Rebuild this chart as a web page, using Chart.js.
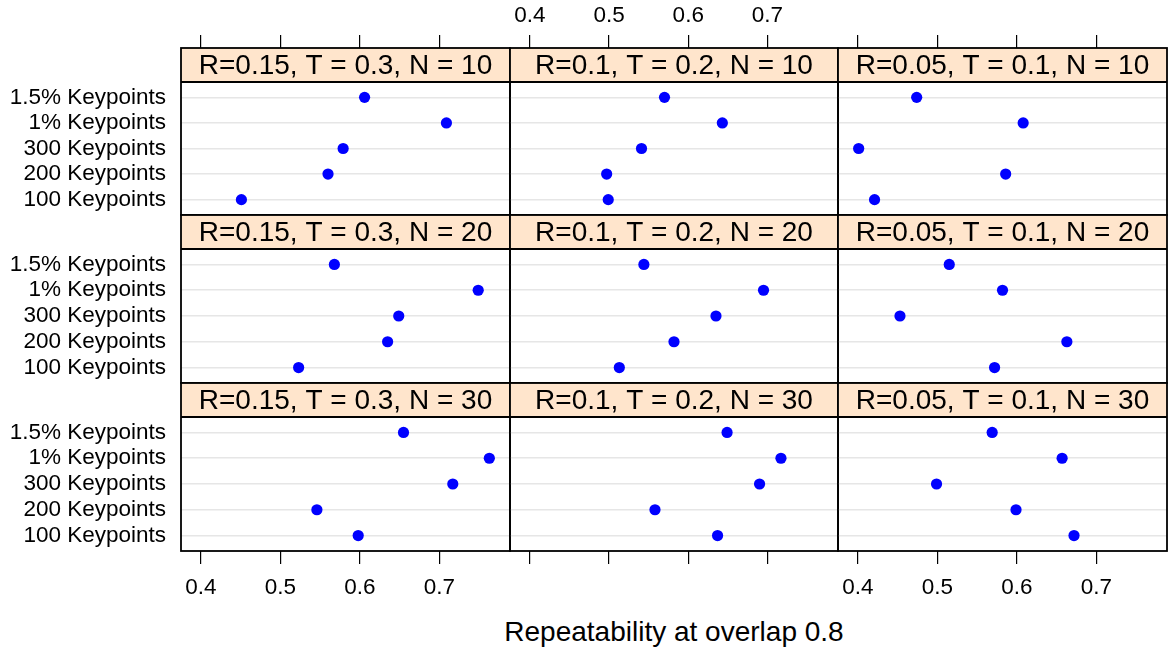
<!DOCTYPE html>
<html>
<head>
<meta charset="utf-8">
<script src="https://cdn.jsdelivr.net/npm/chart.js@4.4.0/dist/chart.umd.min.js"></script>
<style>
  html, body { margin: 0; padding: 0; background: #fff; }
  #wrap { position: relative; width: 1169px; height: 649px; overflow: hidden; }
  #wrap canvas { position: absolute; }
  #xtitle {
    position: absolute; left: 181px; width: 986px; top: 616px;
    text-align: center; line-height: 32px; color: #000;
    font-family: "Liberation Sans", Arial, sans-serif; font-size: 28px;
  }
</style>
</head>
<body>
<div id="wrap">
  <div id="xtitle">Repeatability at overlap 0.8</div>
</div>
<script>
// keypoint sets, listed bottom to top as they appear in each panel
const keypointSets = ['100 Keypoints', '200 Keypoints', '300 Keypoints', '1% Keypoints', '1.5% Keypoints'];
const settings = ['R=0.15, T = 0.3', 'R=0.1, T = 0.2', 'R=0.05, T = 0.1'];
const neighbours = [10, 20, 30];
const xTicks = [0.4, 0.5, 0.6, 0.7];

// repeatability, same order as keypointSets
const r015n10 = [0.451, 0.560, 0.579, 0.709, 0.606];
const r010n10 = [0.499, 0.497, 0.541, 0.643, 0.570];
const r005n10 = [0.421, 0.586, 0.401, 0.608, 0.474];
const r015n20 = [0.523, 0.635, 0.649, 0.749, 0.568];
const r010n20 = [0.513, 0.582, 0.635, 0.695, 0.544];
const r005n20 = [0.572, 0.663, 0.453, 0.582, 0.515];
const r015n30 = [0.598, 0.546, 0.717, 0.763, 0.655];
const r010n30 = [0.637, 0.558, 0.690, 0.717, 0.649];
const r005n30 = [0.672, 0.599, 0.499, 0.657, 0.569];

const panels = [
  [r015n10, r010n10, r005n10],
  [r015n20, r010n20, r005n20],
  [r015n30, r010n30, r005n30]
];

// page layout
const colEdges = [181, 510, 838, 1167];
const rowEdges = [48, 215, 383, 551];
const stripH = 34;
const xMin = 0.375, xMax = 0.789;
const panelTop = 5.6;
const fontFamily = '"Liberation Sans", Arial, sans-serif';

Chart.defaults.font.family = fontFamily;
Chart.defaults.color = '#000';

// peach strip with the panel name, plus the black frame
const panelFrame = {
  id: 'panelFrame',
  beforeDatasetsDraw(chart, args, opts) {
    const ctx = chart.ctx, a = chart.chartArea;
    const stripBottom = chart.scales.y.getPixelForValue(panelTop);
    ctx.save();
    ctx.fillStyle = '#ffe5cc';
    ctx.fillRect(a.left, a.top, a.right - a.left, stripBottom - a.top);
    ctx.fillStyle = '#000';
    ctx.font = '28px ' + fontFamily;
    ctx.textAlign = 'center';
    ctx.textBaseline = 'middle';
    ctx.fillText(opts.label, (a.left + a.right) / 2, (a.top + stripBottom) / 2 + 1);
    ctx.restore();
  },
  afterDraw(chart) {
    const ctx = chart.ctx, a = chart.chartArea;
    const stripBottom = chart.scales.y.getPixelForValue(panelTop);
    ctx.save();
    ctx.strokeStyle = '#000';
    ctx.lineWidth = 1.8;
    ctx.strokeRect(a.left, a.top, a.right - a.left, a.bottom - a.top);
    ctx.beginPath();
    ctx.moveTo(a.left, stripBottom);
    ctx.lineTo(a.right, stripBottom);
    ctx.stroke();
    ctx.restore();
  }
};

// keep every panel's plot area at its fixed size
const noScalePadding = s => {
  s.paddingTop = 0; s.paddingBottom = 0;
  s.paddingLeft = 0; s.paddingRight = 0;
};

const wrap = document.getElementById('wrap');

for (let r = 0; r < 3; r++) {
  for (let c = 0; c < 3; c++) {
    const left = colEdges[c], right = colEdges[c + 1];
    const top = rowEdges[r], bottom = rowEdges[r + 1];
    const yAxisW = c === 0 ? left : 2;
    const topH = r === 0 ? top : 2;
    const bottomH = r === 2 ? 649 - bottom : 2;
    const yMax = panelTop + stripH * 5.2 / (bottom - top - stripH);

    const canvas = document.createElement('canvas');
    canvas.width = yAxisW + (right - left) + 2;
    canvas.height = topH + (bottom - top) + bottomH;
    canvas.style.left = (left - yAxisW) + 'px';
    canvas.style.top = (top - topH) + 'px';
    wrap.appendChild(canvas);

    const xAxis = (pos, height, showTicks, showLabels, pad) => ({
      type: 'linear',
      position: pos,
      min: xMin,
      max: xMax,
      afterBuildTicks: s => { s.ticks = xTicks.map(v => ({ value: v })); },
      afterFit: s => { s.height = height; noScalePadding(s); },
      grid: { display: showTicks, drawOnChartArea: false, drawTicks: true, tickLength: 13, color: '#000', lineWidth: 1.2 },
      border: { display: false },
      ticks: {
        display: showLabels, padding: pad, autoSkip: false, maxRotation: 0,
        font: { size: 22.5 }, color: '#000',
        callback: v => v.toFixed(1)
      }
    });

    new Chart(canvas, {
      type: 'scatter',
      data: {
        datasets: [{
          data: panels[r][c].map((v, i) => ({ x: v, y: i + 1 })),
          xAxisID: 'x',
          yAxisID: 'y',
          pointRadius: 5.6,
          pointBackgroundColor: '#0000ff',
          pointBorderWidth: 0
        }]
      },
      options: {
        responsive: false,
        animation: false,
        events: [],
        layout: { autoPadding: false, padding: { right: 2 } },
        plugins: {
          legend: { display: false },
          tooltip: { enabled: false },
          panelFrame: { label: settings[c] + ', N = ' + neighbours[r] }
        },
        scales: {
          x: xAxis('bottom', bottomH, r === 2, r === 2 && c !== 1, 10),
          xTop: xAxis('top', topH, r === 0, r === 0 && c === 1, 6),
          y: {
            type: 'linear',
            min: 0.4,
            max: yMax,
            afterBuildTicks: s => { s.ticks = keypointSets.map((k, i) => ({ value: i + 1 })); },
            afterFit: s => { s.width = yAxisW; noScalePadding(s); },
            grid: { color: '#e6e6e6', lineWidth: 1.5, drawTicks: false },
            border: { display: false },
            ticks: {
              display: c === 0, padding: 15,
              font: { size: 22.5 }, color: '#000',
              callback: v => keypointSets[Math.round(v) - 1]
            }
          }
        }
      },
      plugins: [panelFrame]
    });
  }
}
</script>
</body>
</html>
